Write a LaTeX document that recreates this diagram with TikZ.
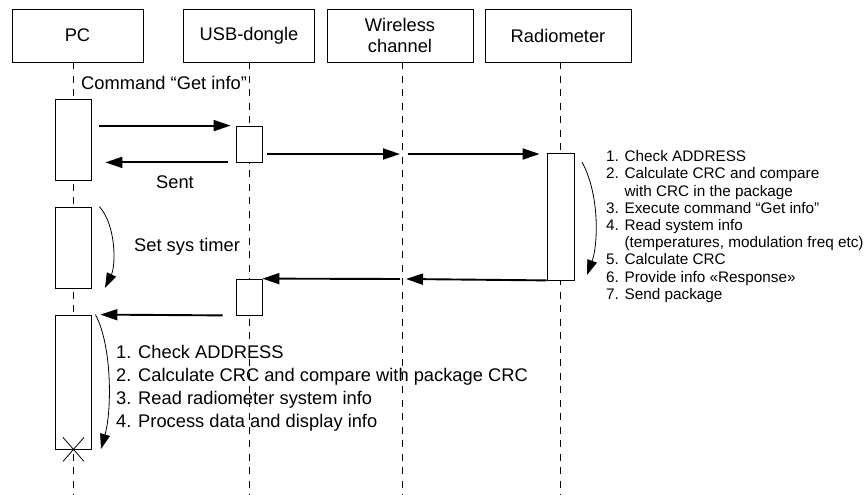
\documentclass[tikz,border=0pt]{standalone}
\usepackage{fontspec}
\setmainfont{Liberation Sans}
\usetikzlibrary{arrows.meta}

\tikzset{
  head/.style={draw,line width=0.8pt,minimum width=131pt,minimum height=53pt,
    inner sep=0pt,align=center,font=\fontsize{18.3}{21.5}\selectfont},
  lifeline/.style={line width=0.8pt,dash pattern=on 7pt off 6.5pt},
  act/.style={draw,line width=0.8pt,fill=white,inner sep=0pt},
  msg/.style={line width=1.9pt,-{Triangle[length=17pt,width=11pt]}},
  self/.style={line width=0.8pt,-{Triangle[length=15pt,width=10pt]}},
  txt/.style={inner sep=0pt,font=\fontsize{18.3}{22.8}\selectfont},
  note/.style={inner sep=0pt,align=left,font=\fontsize{15.3}{17.2}\selectfont}
}

\begin{document}
\begin{tikzpicture}[x=1pt,y=-1pt]
      \useasboundingbox (0,0) rectangle (867,495);
      % heads
      \node[head] (pc) at (77.5,35.5) {PC};
      \node[head] (usb) at (249,35.5) {USB-dongle};
      \node[head,minimum width=146pt] (wl) at (400,35.5) {Wireless\\channel};
      \node[head,minimum width=146pt] (rad) at (558,35.5) {Radiometer};
      % lifelines
      \draw[lifeline] (73,62) -- (73,495);
      \draw[lifeline] (249,62) -- (249,495);
      \draw[lifeline] (402,62) -- (402,495);
      \draw[lifeline] (560,62) -- (560,495);
      % activations
      \node[act,minimum width=36pt,minimum height=81pt] (pcA) at (73,139.5) {};
      \node[act,minimum width=36pt,minimum height=81pt] (pcB) at (73,247.5) {};
      \node[act,minimum width=36pt,minimum height=134pt] (pcC) at (73,382) {};
      \node[act,minimum width=26pt,minimum height=36pt] (usbA) at (249,144) {};
      \node[act,minimum width=26pt,minimum height=36pt] (usbB) at (249,297) {};
      \node[act,minimum width=27pt,minimum height=127pt] (radA) at (560.5,216.5) {};
      % request
      \node[txt,anchor=west] (cmd) at (81,83) {Command “Get info”};
      \draw[msg] ([xshift=8pt]pcA.east |- usbA.north) -- ([xshift=-5pt]usbA.north west);
      \draw[msg] ([xshift=-8pt]usbA.south west) -- ([xshift=14pt]pcA.east |- usbA.south);
      \node[txt] (sent) at (175,182) {Sent};
      \coordinate (wlA) at (402,154);
      \draw[msg] ([xshift=5pt]usbA.east |- wlA) -- ([xshift=-2pt]wlA);
      \draw[msg] ([xshift=6pt]wlA) -- ([xshift=-7pt]radA.west |- wlA);
      % radiometer work
      \draw[self] (582,162) .. controls (600,195) and (598,245) .. (587,275);
      \node[note,anchor=north west] (steps) at (606,150.5) {1. Check ADDRESS\\
        2. Calculate CRC and compare\\
        \phantom{2. }with CRC in the package\\
        3. Execute command “Get info”\\
        4. Read system info\\
        \phantom{4. }(temperatures, modulation freq etc)\\
        5. Calculate CRC\\
        6. Provide info «Response»\\
        7. Send package};
      % timer
      \draw[self] (pcB.north east) ++(8,0) .. controls (116,225) and (116,265) .. (105,288);
      \node[txt,anchor=west] (timer) at (134,247) {Set sys timer};
      % response
      \coordinate (wlB) at (402,279);
      \draw[msg] (radA.south west) -- ([xshift=4pt]wlB);
      \draw[msg] ([xshift=-2pt]wlB) -- (usbB.north east);
      \draw[msg] ([xshift=-13pt]usbB.south west) -- ([xshift=9pt]pcC.north east);
      \draw[self] ([xshift=4pt]pcC.north east) .. controls (112,345) and (112,410) .. (101,449);
      \node[txt,anchor=north west,align=left] (check) at (116,345.5) {1. Check ADDRESS\\
        2. Calculate CRC and compare with package CRC\\
        3. Read radiometer system info\\
        4. Process data and display info};
      % end
      \draw[line width=0.8pt] ([shift={(-10,-12)}]pcC.south) -- ([shift={(11,12)}]pcC.south)
        ([shift={(11,-12)}]pcC.south) -- ([shift={(-10,12)}]pcC.south);
    \end{tikzpicture}
\end{document}
